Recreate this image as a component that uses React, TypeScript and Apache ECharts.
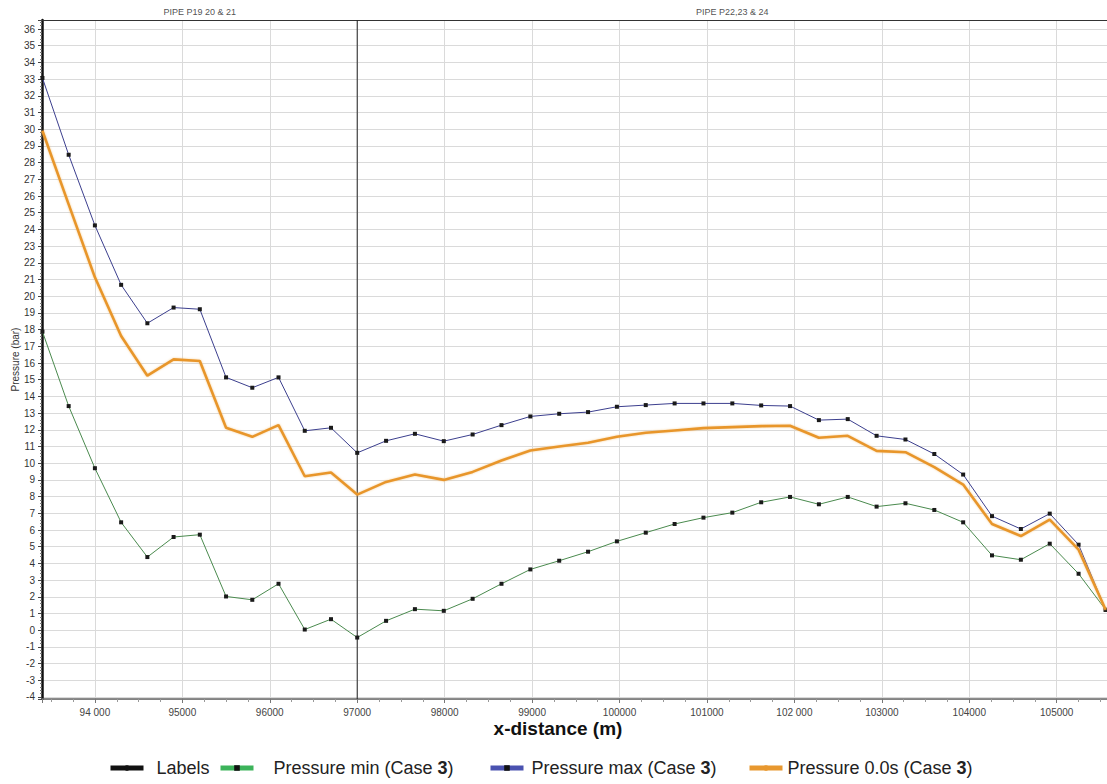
import { useEffect, useRef } from 'react';
import * as echarts from 'echarts';

// Chainage along the line (m): pipes P19-21 every 300 m, pipes P22-24 every 330 m
const distance = [
  93400, 93700, 94000, 94300, 94600, 94900, 95200, 95500, 95800, 96100, 96400, 96700, 97000,
  97330, 97660, 97990, 98320, 98650, 98980, 99310, 99640, 99970, 100300, 100630,
  100960, 101290, 101620, 101950, 102280, 102610, 102940, 103270, 103600, 103930,
  104260, 104590, 104920, 105250, 105560,
];

const pressureMin = [
  17.88, 13.42, 9.7, 6.46, 4.38, 5.58, 5.72, 2.02, 1.82, 2.78, 0.04, 0.66, -0.44,
  0.56, 1.26, 1.16, 1.88, 2.78, 3.64, 4.16, 4.7, 5.32, 5.84, 6.36,
  6.74, 7.04, 7.66, 7.98, 7.54, 7.98, 7.4, 7.6, 7.2, 6.46, 4.48, 4.22, 5.18, 3.38, 1.22,
];

const pressureMax = [
  33.07, 28.47, 24.24, 20.68, 18.38, 19.32, 19.22, 15.14, 14.52, 15.14, 11.94, 12.12, 10.62,
  11.34, 11.76, 11.32, 11.72, 12.28, 12.8, 12.96, 13.06, 13.38, 13.48, 13.58,
  13.58, 13.58, 13.46, 13.42, 12.58, 12.64, 11.64, 11.42, 10.55, 9.32, 6.83, 6.06, 6.98, 5.12, 1.22,
];

const pressureInitial = [
  29.91, 25.5, 21.13, 17.62, 15.24, 16.22, 16.12, 12.12, 11.58, 12.28, 9.22, 9.44, 8.12,
  8.88, 9.32, 9.0, 9.48, 10.16, 10.76, 11.0, 11.22, 11.58, 11.82, 11.96,
  12.1, 12.16, 12.22, 12.24, 11.52, 11.64, 10.74, 10.66, 9.76, 8.72, 6.36, 5.64, 6.62, 4.82, 1.22,
];

// Pipe group labels, placed at the middle of each group
const pipeNames = ['PIPE P19 20 & 21', 'PIPE P22,23 & 24'];
const pipeMidpoints = [95200, 101290];
const pipeBoundary = 97000;

const xTickLabels: Record<number, string> = {
  94000: '94 000', 95000: '95000', 96000: '96000', 97000: '97000', 98000: '98000',
  99000: '99000', 100000: '100000', 101000: '101000', 102000: '102 000',
  103000: '103000', 104000: '104000', 105000: '105000',
};

const X_MIN = 93395;
const X_MAX = 105575;
const Y_MIN = -4.12;
const Y_MAX = 36.54;

const SERIES_MIN = 'Pressure min (Case 3)';
const SERIES_MAX = 'Pressure max (Case 3)';
const SERIES_INIT = 'Pressure 0.0s (Case 3)';
const FONT = '"Liberation Sans", Arial, sans-serif';

const zip = (ys: number[]) => distance.map((x, i) => [x, ys[i]]);

function legendBlock(name: string, left: number, gapPad: number, lineColor: string, markerColor: string) {
  return {
    show: true,
    left,
    top: 759,
    padding: 0,
    itemWidth: 33,
    itemHeight: 7,
    selectedMode: false,
    data: [
      {
        name,
        lineStyle: { color: lineColor, width: 5 },
        itemStyle: { color: markerColor },
      },
    ],
    formatter: (n: string) => n.replace('3)', '{b|3})'),
    textStyle: {
      fontSize: 18,
      fontFamily: FONT,
      color: '#222',
      padding: [0, 0, 0, gapPad],
      rich: {
        b: { fontSize: 18, fontWeight: 'bold', fontFamily: FONT, color: '#222' },
      },
    },
  };
}

export default function App() {
  const ref = useRef<HTMLDivElement>(null);

  useEffect(() => {
    if (!ref.current) return;
    const chart = echarts.init(ref.current, undefined, { renderer: 'svg' });

    chart.setOption({
      animation: false,
      backgroundColor: '#ffffff',
      textStyle: { fontFamily: FONT },
      grid: { left: 42, right: 0, top: 20, bottom: 85, containLabel: false, outerBoundsMode: 'none' },
      legend: [
        legendBlock('Labels', 108, 8, '#111', '#111'),
        legendBlock(SERIES_MIN, 218, 15, '#3cb35a', '#111'),
        legendBlock(SERIES_MAX, 488, 3, '#4a52b0', '#111'),
        legendBlock(SERIES_INIT, 747, 0, '#e8982f', '#e8982f'),
      ],
      xAxis: [
        {
          type: 'value',
          min: X_MIN,
          max: X_MAX,
          splitNumber: 12,
          minInterval: 1000,
          maxInterval: 1000,
          name: 'x-distance (m)',
          nameLocation: 'middle',
          nameGap: 20,
          nameMoveOverlap: false,
          nameTextStyle: { fontSize: 19, fontWeight: 'bold', color: '#111', fontFamily: FONT, padding: [0, 33, 0, 0] },
          axisLine: { show: true, onZero: false, lineStyle: { color: '#666', width: 1.5 } },
          axisTick: { show: true, length: 4, lineStyle: { color: '#777' } },
          minorTick: { show: true, splitNumber: 4, length: 3, lineStyle: { color: '#999' } },
          axisLabel: {
            fontSize: 10,
            color: '#444',
            margin: 8,
            showMinLabel: false,
            showMaxLabel: false,
            formatter: (v: number) => xTickLabels[v] ?? '',
          },
          splitLine: { show: true, lineStyle: { color: '#dadada', width: 1 } },
        },
        {
          type: 'value',
          position: 'top',
          min: X_MIN,
          max: X_MAX,
          axisLine: { show: true, onZero: false, lineStyle: { color: '#333', width: 1 } },
          axisTick: { show: false },
          axisLabel: { show: false },
          splitLine: { show: false },
        },
      ],
      yAxis: {
        type: 'value',
        min: Y_MIN,
        max: Y_MAX,
        splitNumber: 40,
        minInterval: 1,
        maxInterval: 1,
        name: 'Pressure (bar)',
        nameLocation: 'middle',
        nameGap: 22,
        nameMoveOverlap: false,
        nameTextStyle: { fontSize: 10, color: '#333', fontFamily: FONT },
        axisLine: { show: true, onZero: false, lineStyle: { color: '#111', width: 2.5 } },
        axisTick: { show: true, length: 4, lineStyle: { color: '#444' } },
        minorTick: { show: true, splitNumber: 5, length: 2, lineStyle: { color: '#777' } },
        axisLabel: { fontSize: 10, color: '#333', margin: 7, showMinLabel: false, showMaxLabel: false },
        splitLine: { show: true, lineStyle: { color: '#dadada', width: 1 } },
      },
      series: [
        {
          name: 'Labels',
          type: 'line',
          data: [
            [pipeBoundary, Y_MIN],
            [pipeBoundary, Y_MAX],
          ],
          symbol: 'none',
          lineStyle: { color: '#222', width: 1 },
          itemStyle: { color: '#111' },
          z: 3,
        },
        {
          name: 'Labels',
          type: 'scatter',
          data: pipeMidpoints.map((x, i) => [x, Y_MAX, pipeNames[i]]),
          symbolSize: 0,
          clip: false,
          itemStyle: { color: '#111' },
          label: {
            show: true,
            position: 'top',
            distance: 4,
            fontSize: 9,
            color: '#222',
            fontFamily: FONT,
            formatter: (p: any) => p.data[2],
          },
        },
        {
          name: SERIES_MIN,
          type: 'line',
          data: zip(pressureMin),
          symbol: 'rect',
          symbolSize: 4,
          lineStyle: { color: '#4a8a4e', width: 1 },
          itemStyle: { color: '#1a1a1a' },
          z: 4,
        },
        {
          name: SERIES_MAX,
          type: 'line',
          data: zip(pressureMax),
          symbol: 'rect',
          symbolSize: 4,
          lineStyle: { color: '#3c3f8e', width: 1 },
          itemStyle: { color: '#1a1a1a' },
          z: 4,
        },
        {
          name: SERIES_INIT,
          type: 'line',
          data: zip(pressureInitial),
          symbol: 'none',
          lineStyle: { color: '#e8962c', width: 2.6, shadowColor: 'rgba(240,180,90,0.6)', shadowBlur: 2 },
          itemStyle: { color: '#e8962c' },
          z: 5,
        },
      ],
    });

    return () => chart.dispose();
  }, []);

  return (
    <div
      ref={ref}
      style={{ position: 'absolute', left: 0, top: 0, width: 1107, height: 784, background: '#fff' }}
    />
  );
}
